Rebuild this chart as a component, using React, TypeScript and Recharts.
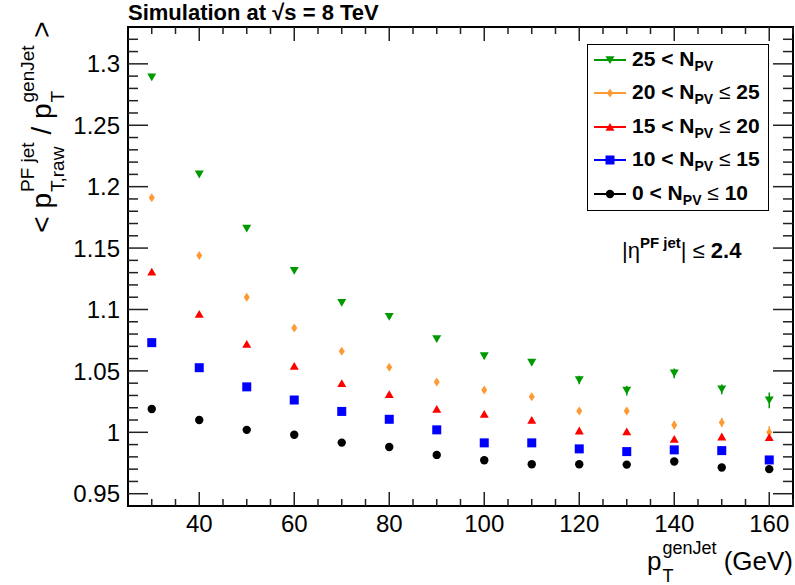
import React from 'react';
import { ScatterChart, Scatter, XAxis, YAxis, ErrorBar, ReferenceArea } from 'recharts';

// generator-level jet pT bin centres (GeV)
const ptBins = [30, 40, 50, 60, 70, 80, 90, 100, 110, 120, 130, 140, 150, 160];

// <pT raw / pT gen> per pile-up bin
const npvAbove25 = [1.289, 1.21, 1.166, 1.1315, 1.1055, 1.094, 1.076, 1.062, 1.0567, 1.0426, 1.034, 1.048, 1.035, 1.026];
const npvAbove25Err = [0.001, 0.001, 0.001, 0.001, 0.001, 0.0015, 0.0015, 0.002, 0.002, 0.0035, 0.004, 0.004, 0.004, 0.0065];
const npv20to25 = [1.191, 1.144, 1.11, 1.085, 1.066, 1.053, 1.041, 1.0345, 1.029, 1.0174, 1.0174, 1.006, 1.008, 1.0];
const npv20to25Err = [0.001, 0.001, 0.001, 0.001, 0.001, 0.0015, 0.0015, 0.002, 0.002, 0.002, 0.0025, 0.0035, 0.0037, 0.005];
const npv15to20 = [1.1307, 1.0963, 1.072, 1.054, 1.04, 1.031, 1.019, 1.015, 1.01, 1.0014, 1.0006, 0.9946, 0.9965, 0.996];
const npv15to20Err = [0.001, 0.001, 0.001, 0.001, 0.001, 0.001, 0.001, 0.001, 0.001, 0.0015, 0.0015, 0.0015, 0.002, 0.002];
const npv10to15 = [1.073, 1.0526, 1.037, 1.0263, 1.017, 1.0106, 1.002, 0.9914, 0.9914, 0.9865, 0.9843, 0.9857, 0.9851, 0.9775];
const npv10to15Err = [0.001, 0.001, 0.001, 0.001, 0.001, 0.001, 0.001, 0.001, 0.001, 0.001, 0.001, 0.001, 0.001, 0.0015];
const npv0to10 = [1.019, 1.01, 1.002, 0.998, 0.9916, 0.988, 0.9816, 0.9772, 0.974, 0.974, 0.9737, 0.9762, 0.9713, 0.97];
const npv0to10Err = [0.001, 0.001, 0.001, 0.001, 0.001, 0.001, 0.001, 0.001, 0.001, 0.001, 0.001, 0.001, 0.001, 0.001];

const xMajorTicks = [40, 60, 80, 100, 120, 140, 160];
const yMajorTicks = [0.95, 1, 1.05, 1.1, 1.15, 1.2, 1.25, 1.3];

// minor ticks: every 5 GeV on x, every 0.01 on y
const xTicks = Array.from({ length: 28 }, (_, i) => 30 + i * 5);
const yTicks = Array.from({ length: 38 }, (_, i) => Number((0.95 + i * 0.01).toFixed(2)));

const PLOT = { left: 128, right: 793, top: 27, bottom: 506 };
const FONT = '"Liberation Sans", Arial, Helvetica, sans-serif';

const toRows = (vals: number[], errs: number[]) =>
  ptBins.map((pt, i) => ({ pt, r: vals[i], err: errs[i] }));

const series = [
  { key: 'npv25', lo: '25', hi: null, color: '#009900', kind: 'triDown', data: toRows(npvAbove25, npvAbove25Err) },
  { key: 'npv20', lo: '20', hi: '25', color: '#ff9933', kind: 'diamond', data: toRows(npv20to25, npv20to25Err) },
  { key: 'npv15', lo: '15', hi: '20', color: '#ff0000', kind: 'triUp', data: toRows(npv15to20, npv15to20Err) },
  { key: 'npv10', lo: '10', hi: '15', color: '#0000ff', kind: 'square', data: toRows(npv10to15, npv10to15Err) },
  { key: 'npv0', lo: '0', hi: '10', color: '#000000', kind: 'circle', data: toRows(npv0to10, npv0to10Err) },
];

function Marker({ kind, cx, cy, color }: { kind: string; cx: number; cy: number; color: string }) {
  if (cx == null || cy == null) return null;
  switch (kind) {
    case 'triDown':
      return <polygon points={`${cx - 4.5},${cy - 3.8} ${cx + 4.5},${cy - 3.8} ${cx},${cy + 4}`} fill={color} />;
    case 'triUp':
      return <polygon points={`${cx - 4.5},${cy + 3.8} ${cx + 4.5},${cy + 3.8} ${cx},${cy - 4}`} fill={color} />;
    case 'diamond':
      return <polygon points={`${cx},${cy - 4.5} ${cx + 3},${cy} ${cx},${cy + 4.5} ${cx - 3},${cy}`} fill={color} />;
    case 'square':
      return <rect x={cx - 4.5} y={cy - 4.5} width={9} height={9} fill={color} />;
    default:
      return <circle cx={cx} cy={cy} r={4.2} fill={color} />;
  }
}

function XTick(props: any) {
  const { x, payload } = props;
  const v = payload.value;
  const major = xMajorTicks.includes(v);
  const len = major ? 14 : 7;
  return (
    <g>
      <line x1={x} x2={x} y1={PLOT.bottom} y2={PLOT.bottom - len} stroke="#222" strokeWidth={1.5} />
      <line x1={x} x2={x} y1={PLOT.top} y2={PLOT.top + len} stroke="#222" strokeWidth={1.5} />
      {major && (
        <text x={x} y={PLOT.bottom + 26} textAnchor="middle" fontSize={24} fontFamily={FONT} fill="#000">
          {v}
        </text>
      )}
    </g>
  );
}

function YTick(props: any) {
  const { y, payload } = props;
  const v = payload.value;
  const major = yMajorTicks.includes(v);
  const len = major ? 20 : 10;
  return (
    <g>
      <line x1={PLOT.left} x2={PLOT.left + len} y1={y} y2={y} stroke="#222" strokeWidth={1.5} />
      <line x1={PLOT.right} x2={PLOT.right - len} y1={y} y2={y} stroke="#222" strokeWidth={1.5} />
      {major && (
        <text x={120} y={y} dy="0.36em" textAnchor="end" fontSize={24} fontFamily={FONT} fill="#000">
          {v}
        </text>
      )}
    </g>
  );
}

function SupSub({ sup, sub, size, gap, shift, bold }: { sup: string; sub: string; size: number; gap: number; shift: number; bold?: boolean }) {
  return (
    <span
      style={{
        display: 'inline-block',
        position: 'relative',
        top: shift,
        fontSize: size,
        lineHeight: `${gap}px`,
        fontWeight: bold ? 'bold' : 'normal',
        marginLeft: 1,
      }}
    >
      <span style={{ display: 'block' }}>{sup || '\u00a0'}</span>
      <span style={{ display: 'block' }}>{sub || '\u00a0'}</span>
    </span>
  );
}

function LegendBox() {
  return (
    <div
      style={{
        position: 'absolute',
        left: 587,
        top: 44,
        width: 182,
        height: 167,
        boxSizing: 'border-box',
        border: '1px solid #000',
        background: '#fff',
        fontFamily: FONT,
        fontWeight: 'bold',
        fontSize: 21,
      }}
    >
      {series.map((s, i) => {
        const cy = 15 + i * 33.4;
        return (
          <div key={s.key} style={{ position: 'absolute', left: 0, top: cy - 12, height: 24, whiteSpace: 'nowrap', display: 'flex', alignItems: 'center' }}>
            <svg width={44} height={24} style={{ display: 'block' }}>
              <line x1={6} x2={38} y1={12} y2={12} stroke={s.color} strokeWidth={2} />
              <Marker kind={s.kind} cx={22} cy={12} color={s.color} />
            </svg>
            <span style={{ lineHeight: '24px' }}>
              {s.lo} &lt; N
              <span style={{ fontSize: 14, position: 'relative', top: 5 }}>PV</span>
              {s.hi && (
                <>
                  <span style={{ fontWeight: 'normal' }}> ≤ </span>
                  {s.hi}
                </>
              )}
            </span>
          </div>
        );
      })}
    </div>
  );
}

export default function App() {
  return (
    <div style={{ position: 'absolute', left: 0, top: 0, width: 795, height: 585, background: '#fff', fontFamily: FONT }}>
      <ScatterChart width={795} height={585} margin={{ top: 27, right: 2, bottom: 0, left: 0 }}>
        <XAxis
          type="number"
          dataKey="pt"
          domain={[25, 165]}
          ticks={xTicks}
          interval={0}
          tick={<XTick />}
          tickLine={false}
          axisLine={false}
          height={79}
          allowDataOverflow
        />
        <YAxis
          type="number"
          dataKey="r"
          domain={[0.94, 1.33]}
          ticks={yTicks}
          interval={0}
          tick={<YTick />}
          tickLine={false}
          axisLine={false}
          width={128}
          allowDataOverflow
        />
        <ReferenceArea x1={25} x2={165} y1={0.94} y2={1.33} fill="none" stroke="#000" strokeWidth={2} fillOpacity={0} ifOverflow="visible" />
        {series.map((s) => (
          <Scatter
            key={s.key}
            name={s.key}
            data={s.data}
            fill={s.color}
            isAnimationActive={false}
            shape={(p: any) => <Marker kind={s.kind} cx={p.cx} cy={p.cy} color={s.color} />}
          >
            <ErrorBar dataKey="err" direction="y" width={0} stroke={s.color} strokeWidth={1.5} isAnimationActive={false} />
          </Scatter>
        ))}
      </ScatterChart>

      <LegendBox />

      {/* title */}
      <div style={{ position: 'absolute', left: 128, top: 0, fontSize: 22, fontWeight: 'bold', whiteSpace: 'nowrap', lineHeight: '26px' }}>
        Simulation at √<span style={{ borderTop: '1.5px solid #000' }}>s</span> = 8 TeV
      </div>

      {/* y axis title */}
      <div
        style={{
          position: 'absolute',
          left: 30,
          top: 127,
          transform: 'translate(-50%, -50%) rotate(-90deg)',
          whiteSpace: 'nowrap',
          fontSize: 28,
          lineHeight: '30px',
        }}
      >
        &lt; p<SupSub sup="PF jet" sub="T,raw" size={19} gap={30} shift={13} /> / p
        <SupSub sup="genJet" sub="T" size={19} gap={30} shift={13} /> &gt;
      </div>

      {/* x axis title */}
      <div style={{ position: 'absolute', right: 2, top: 522, whiteSpace: 'nowrap', fontSize: 26, lineHeight: '28px' }}>
        p<SupSub sup="genJet" sub="T" size={18} gap={28} shift={12} /> (GeV)
      </div>

      {/* eta annotation */}
      <div style={{ position: 'absolute', left: 622, top: 238, whiteSpace: 'nowrap', fontSize: 22, lineHeight: '26px' }}>
        |η
        <span style={{ fontSize: 15, fontWeight: 'bold', position: 'relative', top: -10 }}>PF jet</span>| ≤ <b>2.4</b>
      </div>
    </div>
  );
}
